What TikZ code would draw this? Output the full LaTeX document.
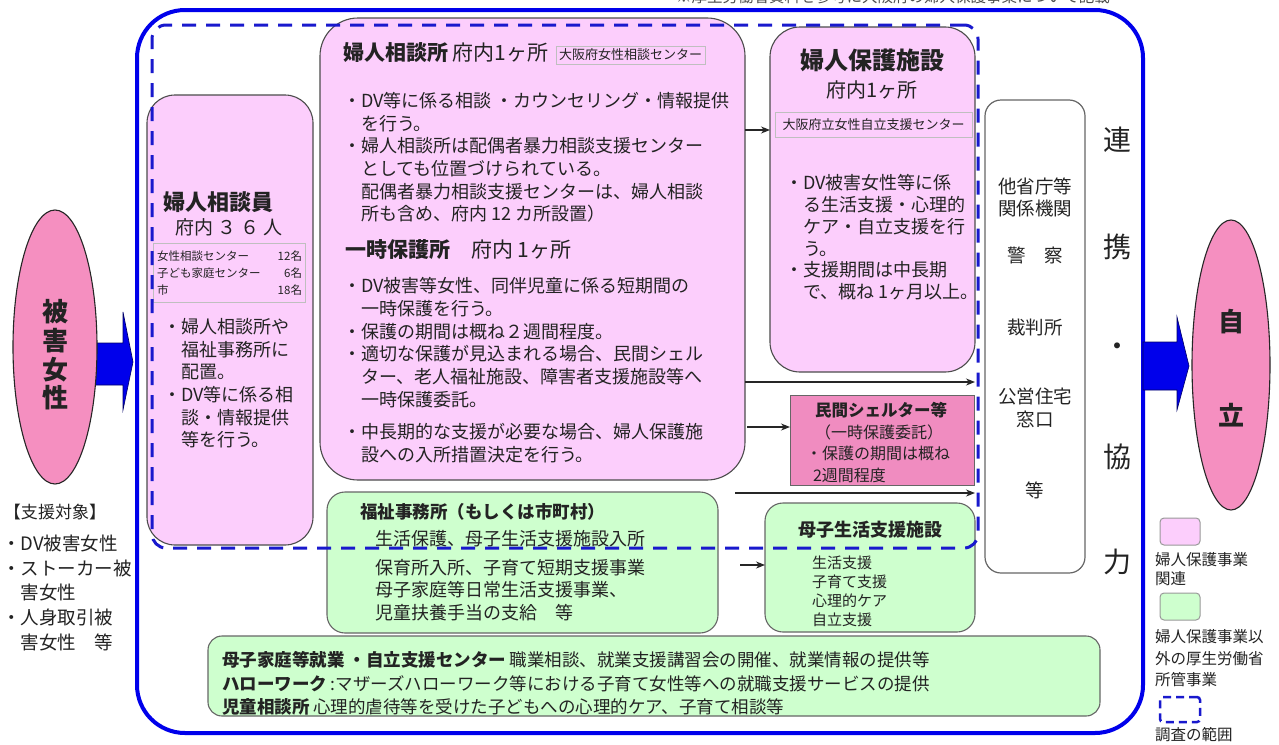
\documentclass[tikz,border=0pt]{standalone}
\usepackage{fontspec}
\setmainfont{Noto Sans CJK JP}
\usetikzlibrary{shapes.geometric,arrows.meta}
\definecolor{pinkbox}{RGB}{252,206,252}
\definecolor{greenbox}{RGB}{206,255,206}
\definecolor{ellpink}{RGB}{245,143,192}
\definecolor{shelterpink}{RGB}{240,140,192}
\definecolor{frameblue}{RGB}{0,0,235}
\definecolor{dashblue}{RGB}{25,25,205}
\definecolor{txt}{RGB}{35,35,35}
\newcommand{\fsz}[1]{\fontsize{#1}{#1}\selectfont}
\newcommand{\ind}{\phantom{・}}
\begin{document}
\begin{tikzpicture}[x=1pt,y=-1pt,
 every node/.style={inner sep=0pt,outer sep=0pt,text=txt},
 pbox/.style={draw=black!70,fill=pinkbox,line width=1.1pt,anchor=north west},
 gbox/.style={draw=black!60,fill=greenbox,line width=1.1pt,anchor=north west},
 lab/.style={draw=black!25,fill=pinkbox,line width=0.6pt,inner xsep=3pt,inner ysep=3pt},
 arr/.style={-{Stealth[length=9pt,width=7pt]},line width=1.1pt,draw=black!85},
 tl/.style={anchor=west},
 blk/.style={anchor=north west,align=left},
 blockarrow/.style={fill=frameblue,draw=blue!40!black,line width=0.6pt},
 vchar/.style={font=\fsz{28}},
]
\useasboundingbox (0,0) rectangle (1279,744);
\fill[white] (0,0) rectangle (1279,744);

% top note (cut off by the page edge, as in the reference)
\node[font=\fsz{15.5},text=black!70] (note) at (893,-3) {※厚生労働省資料を参考に大阪府の婦人保護事業について記載};

% outer frame
\node[anchor=north west,draw=frameblue,line width=4pt,rounded corners=48pt,minimum width=1006pt,minimum height=723pt] (frame) at (137,10) {};

% block arrows
\filldraw[blockarrow] (92,343) -- (123,343) -- (123,312) -- (133,362) -- (123,410) -- (123,385) -- (92,385) -- cycle;
\filldraw[blockarrow] (1143,342) -- (1177,342) -- (1177,317) -- (1189,366) -- (1177,410) -- (1177,390) -- (1143,390) -- cycle;

% ellipses
\node[ellipse,draw=black!85,line width=1.1pt,fill=ellpink,minimum width=84pt,minimum height=274pt] (victim) at (55,347) {};
\node[font=\fontsize{26}{28.7}\selectfont\bfseries,align=center] (victimtxt) at (55,355) {被\\害\\女\\性};
\node[ellipse,draw=black!85,line width=1.1pt,fill=ellpink,minimum width=78pt,minimum height=290pt] (jiritsu) at (1231,365) {};
\node[font=\fsz{26}\bfseries] (ji) at (1231,322) {自};
\node[font=\fsz{26}\bfseries] (ritsu) at (1231,415) {立};

% left legend
\node[font=\fsz{17},anchor=west] (target) at (4,512) {【支援対象】};
\node[blk,font=\fontsize{18.5}{24.7}\selectfont] (targets) at (2,535) {・DV被害女性\\・ストーカー被\\\ind 害女性\\・人身取引被\\\ind 害女性　等};

% 婦人相談員
\node[pbox,rounded corners=28pt,minimum width=166pt,minimum height=450pt] (soudanin) at (147,95) {};
\node[tl,font=\fsz{22}\bfseries] (soudanint) at (163,202) {婦人相談員};
\node[tl,font=\fsz{19}] (soudaninn) at (175,227) {府内 ３ ６ 人};
\node[anchor=north west,draw=black!25,line width=0.6pt,minimum width=152pt,minimum height=59pt] (tbl) at (153,243) {};
\node[tl,font=\fsz{11.5}] (r1) at (157,256) {女性相談センター};
\node[tl,font=\fsz{11.5}] (r2) at (157,273) {子ども家庭センター};
\node[tl,font=\fsz{11.5}] (r3) at (157,290) {市};
\node[anchor=east,font=\fsz{11.5}] (n1) at (302,256) {12名};
\node[anchor=east,font=\fsz{11.5}] (n2) at (302,273) {6名};
\node[anchor=east,font=\fsz{11.5}] (n3) at (302,290) {18名};
\node[blk,font=\fontsize{18}{22.6}\selectfont] (soudaninb) at (163,318.5) {・婦人相談所や\\\ind 福祉事務所に\\\ind 配置。\\・DV等に係る相\\\ind 談・情報提供\\\ind 等を行う。};

% 婦人相談所
\node[pbox,rounded corners=38pt,minimum width=425pt,minimum height=462pt] (soudanjo) at (320,18) {};
\node[tl,font=\fsz{21}] (soudanjot) at (343,53) {{\bfseries 婦人相談所} 府内1ヶ所};
\node[lab,font=\fsz{13},anchor=west] (soudanjol) at (556,55) {大阪府女性相談センター};
\node[blk,font=\fontsize{18}{22.6}\selectfont] (soudanjob) at (343,92.5) {・DV等に係る相談 ・カウンセリング・情報提供\\\ind を行う。\\・婦人相談所は配偶者暴力相談支援センター\\\ind としても位置づけられている。\\\ind 配偶者暴力相談支援センターは、婦人相談\\\ind 所も含め、府内 12 カ所設置）};
\node[tl,font=\fsz{21}] (ichijit) at (345,250) {{\bfseries 一時保護所}\quad 府内 1ヶ所};
\node[blk,font=\fontsize{18}{22.7}\selectfont] (ichijib) at (343,277.5) {・DV被害等女性、同伴児童に係る短期間の\\\ind 一時保護を行う。\\・保護の期間は概ね２週間程度。\\・適切な保護が見込まれる場合、民間シェル\\\ind ター、老人福祉施設、障害者支援施設等へ\\\ind 一時保護委託。};
\node[blk,font=\fontsize{18}{22.7}\selectfont] (ichijic) at (343,423.5) {・中長期的な支援が必要な場合、婦人保護施\\\ind 設への入所措置決定を行う。};

% 婦人保護施設
\node[pbox,rounded corners=30pt,minimum width=205pt,minimum height=345pt] (hogo) at (770,27) {};
\node[font=\fsz{24}\bfseries] (hogot) at (872,60) {婦人保護施設};
\node[font=\fsz{20}] (hogon) at (872,90) {府内1ヶ所};
\node[lab,font=\fsz{13},anchor=north west,minimum width=197pt,minimum height=25pt] (hogol) at (775,112) {大阪府立女性自立支援センター};
\node[blk,font=\fontsize{18}{21.8}\selectfont] (hogob) at (785,174.5) {・DV被害女性等に係\\\ind る生活支援・心理的\\\ind ケア・自立支援を行\\\ind う。\\・支援期間は中長期\\\ind で、概ね 1ヶ月以上。};

% 民間シェルター等
\node[anchor=north west,draw=black!60,line width=1pt,fill=shelterpink,minimum width=184pt,minimum height=90pt] (shelter) at (790,395) {};
\node[font=\fsz{16.5}\bfseries] (sheltert) at (881,410) {民間シェルター等};
\node[font=\fsz{16}] (shelter2) at (879,432) {（一時保護委託）};
\node[font=\fsz{16}] (shelter3) at (878,453) {・保護の期間は概ね};
\node[tl,font=\fsz{16}] (shelter4) at (813,475) {2週間程度};

% 他省庁等
\node[anchor=north west,draw=black!60,fill=white,line width=1.2pt,rounded corners=16pt,minimum width=100pt,minimum height=473pt] (tasho) at (985,100) {};
\node[font=\fontsize{18.5}{22}\selectfont,align=center] (tasho1) at (1035,197) {他省庁等\\関係機関};
\node[font=\fsz{18.5}] (tasho2) at (1035,255) {警　察};
\node[font=\fsz{18.5}] (tasho3) at (1035,327) {裁判所};
\node[font=\fontsize{18.5}{23}\selectfont,align=center] (tasho4) at (1035,408) {公営住宅\\窓口};
\node[font=\fsz{18.5}] (tasho5) at (1035,490) {等};

% 連携・協力
\node[vchar] (ren) at (1117,140) {連};
\node[vchar] (kei) at (1117,247) {携};
\node[vchar] (dot) at (1117,350) {・};
\node[vchar] (kyo) at (1117,457) {協};
\node[vchar] (ryoku) at (1117,562) {力};

% 福祉事務所
\node[gbox,rounded corners=18pt,minimum width=391pt,minimum height=141pt] (fukushi) at (327,492) {};
\node[tl,font=\fsz{17.5}\bfseries] (fukushit) at (360,512) {福祉事務所（もしくは市町村）};
\node[tl,font=\fsz{18}] (fukushi1) at (375,539) {生活保護、母子生活支援施設入所};
\node[tl,font=\fsz{18}] (fukushi2) at (375,568) {保育所入所、子育て短期支援事業};
\node[tl,font=\fsz{18}] (fukushi3) at (375,590) {母子家庭等日常生活支援事業、};
\node[tl,font=\fsz{18}] (fukushi4) at (375,613) {児童扶養手当の支給　等};

% 母子生活支援施設
\node[gbox,rounded corners=18pt,minimum width=210pt,minimum height=129pt] (boshi) at (765,503) {};
\node[font=\fsz{18}\bfseries] (boshit) at (870,530) {母子生活支援施設};
\node[blk,font=\fontsize{15}{19}\selectfont] (boshib) at (812,556) {生活支援\\子育て支援\\心理的ケア\\自立支援};

% bottom box
\node[gbox,rounded corners=14pt,minimum width=892pt,minimum height=80pt] (bottom) at (208,636) {};
\node[tl,font=\fsz{17.5}] (b1) at (222,660) {{\bfseries 母子家庭等就業 ・自立支援センター} 職業相談、就業支援講習会の開催、就業情報の提供等};
\node[tl,font=\fsz{17.5}] (b2) at (222,684) {{\bfseries ハローワーク} :マザーズハローワーク等における子育て女性等への就職支援サービスの提供};
\node[tl,font=\fsz{17.5}] (b3) at (222,707) {{\bfseries 児童相談所} 心理的虐待等を受けた子どもへの心理的ケア、子育て相談等};

% connectors
\draw[arr] (soudanjo.east |- 0,130) -- (hogo.west |- 0,130);
\coordinate (t1in) at ([xshift=-10pt]tasho.west |- 0,382);
\draw[arr] (soudanjo.east |- t1in) -- (t1in);
\coordinate (sstart) at (747,427);
\draw[arr] (sstart) -- (shelter.west |- sstart);
\coordinate (fstart) at (735,493);
\draw[arr] (fstart) -- ([xshift=-10pt]tasho.west |- fstart);
\coordinate (bstart) at (740,565);
\draw[arr] (bstart) -- (boshi.west |- bstart);

% legend (right)
\node[anchor=north west,draw=black!40,fill=pinkbox,line width=1pt,rounded corners=4pt,minimum width=40pt,minimum height=27pt] (legp) at (1160,518) {};
\node[blk,font=\fontsize{15.5}{19}\selectfont] (legpt) at (1155,552) {婦人保護事業\\関連};
\node[anchor=north west,draw=black!40,fill=greenbox,line width=1pt,rounded corners=4pt,minimum width=40pt,minimum height=27pt] (legg) at (1160,593) {};
\node[blk,font=\fontsize{15.5}{21.5}\selectfont] (leggt) at (1155,629.5) {婦人保護事業以\\外の厚生労働省\\所管事業};
\node[anchor=north west,draw=dashblue,line width=2.5pt,dash pattern=on 8pt off 5pt,rounded corners=3pt,minimum width=40pt,minimum height=25pt] (legd) at (1160,697) {};
\node[tl,font=\fsz{15.5}] (legdt) at (1155,735) {調査の範囲};

% survey scope (dashed)
\node[anchor=north west,draw=dashblue,line width=3pt,dash pattern=on 14pt off 10pt,rounded corners=14pt,minimum width=826pt,minimum height=523pt] (scope) at (152,25) {};
\end{tikzpicture}
\end{document}
